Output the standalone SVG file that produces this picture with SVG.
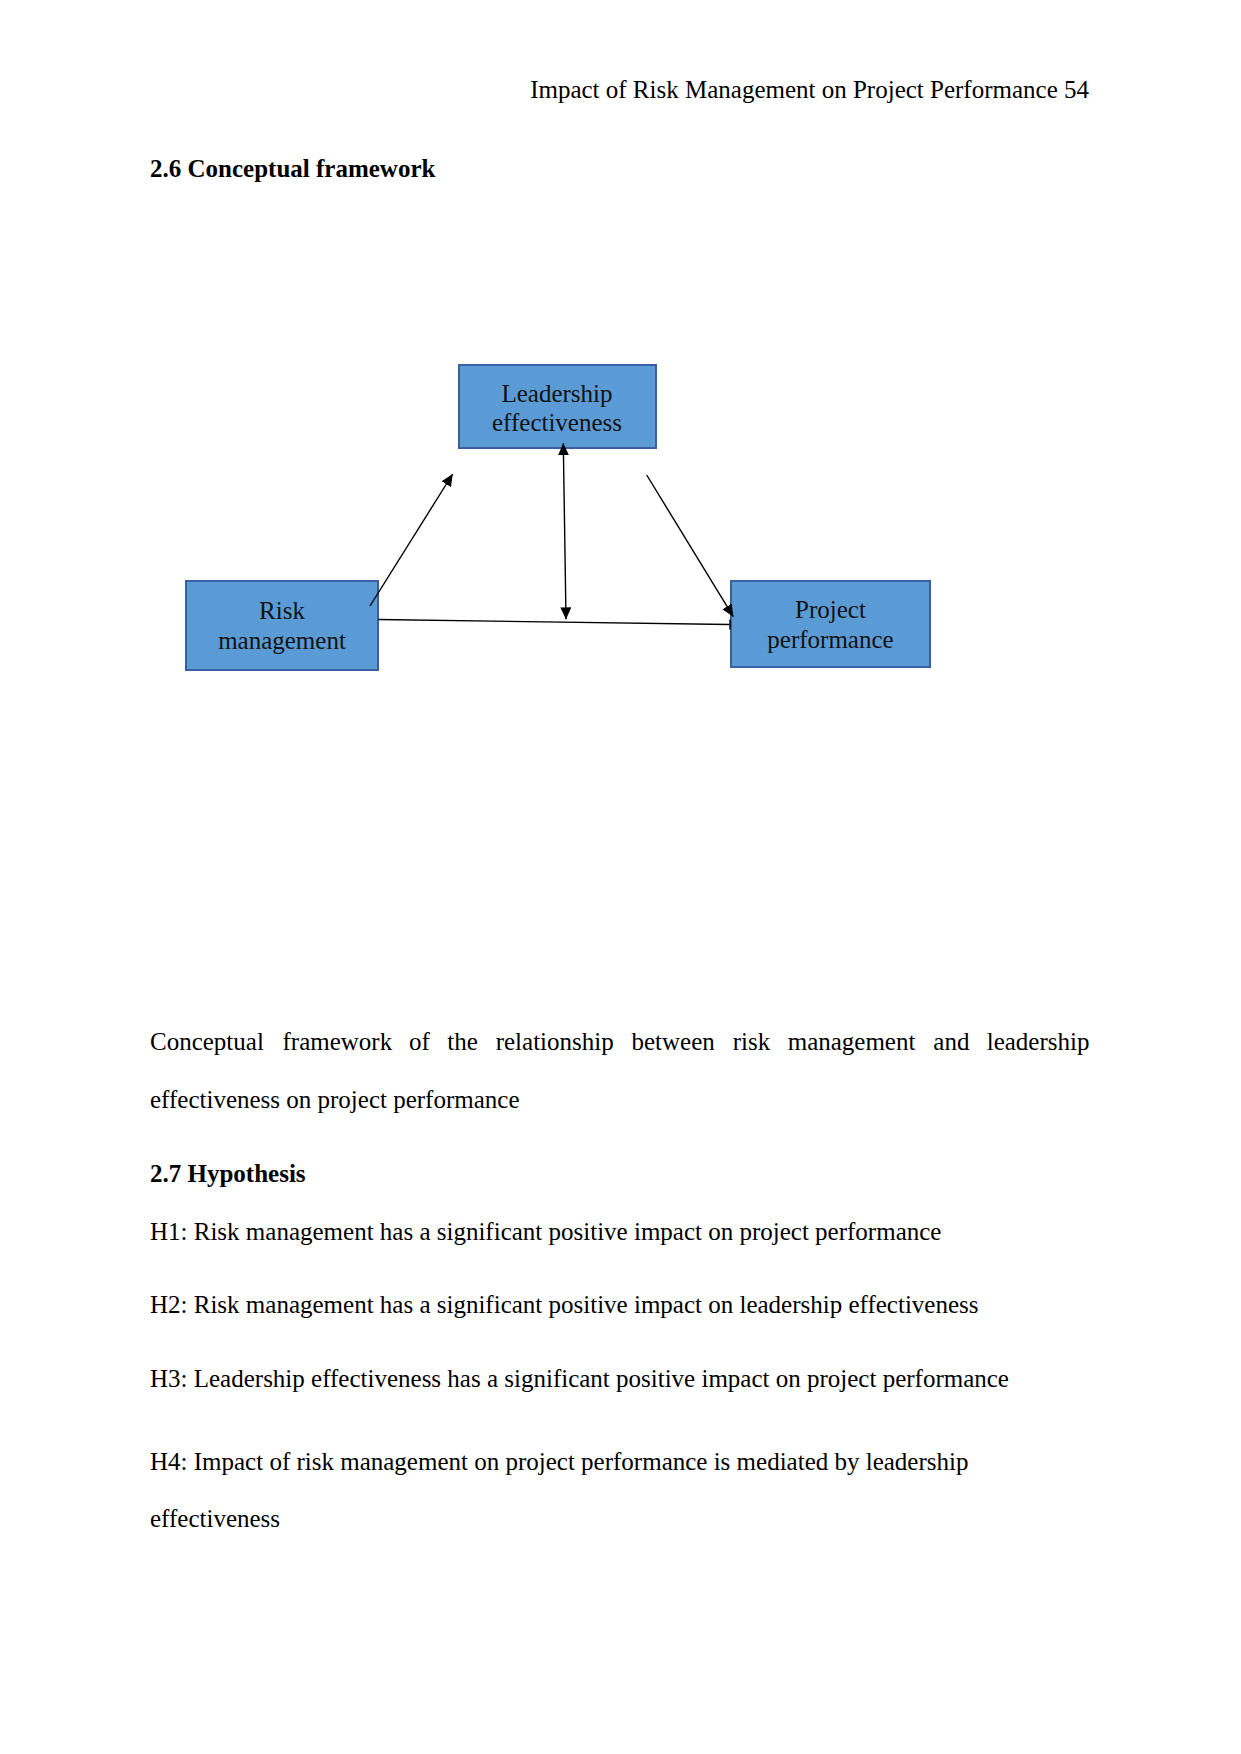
<svg xmlns="http://www.w3.org/2000/svg" width="1241" height="1754" viewBox="0 0 1241 1754">
<style>
.t{font-family:"Liberation Serif","Times New Roman",serif;font-size:25px;fill:#000}
.b{font-weight:bold}
.box{fill:#5B9BD5;stroke:#3A5FA0;stroke-width:2}
.lbl{font-family:"Liberation Serif","Times New Roman",serif;font-size:25px;fill:#111;text-anchor:middle}
.c{stroke:#000;stroke-width:1.4;fill:none}
</style>
<defs>
<marker id="ah" viewBox="0 0 12 11" refX="12" refY="5.5" markerWidth="12" markerHeight="11" markerUnits="userSpaceOnUse" orient="auto-start-reverse">
<path d="M0,0 L12,5.5 L0,11 z" fill="#000"/>
</marker>
</defs>
<rect width="1241" height="1754" fill="#fff"/>
<text class="t" x="1089" y="98" text-anchor="end">Impact of Risk Management on Project Performance 54</text>
<text class="t b" x="150" y="177">2.6 Conceptual framework</text>

<g id="node-leadership">
<rect class="box" x="459" y="365" width="197" height="83"/>
<text class="lbl" x="557" y="402">Leadership</text>
<text class="lbl" x="557" y="431">effectiveness</text>
</g>
<g id="node-risk">
<rect class="box" x="186" y="581" width="192" height="89"/>
<text class="lbl" x="282" y="619">Risk</text>
<text class="lbl" x="282" y="649">management</text>
</g>
<g id="node-project">
<rect class="box" x="731" y="581" width="199" height="86"/>
<text class="lbl" x="830.5" y="618">Project</text>
<text class="lbl" x="830.5" y="648">performance</text>
</g>

<g id="connectors">
<line class="c" x1="370" y1="606" x2="452.7" y2="474" marker-end="url(#ah)"/>
<line class="c" x1="563.3" y1="443.3" x2="566" y2="619.3" marker-start="url(#ah)" marker-end="url(#ah)"/>
<line class="c" x1="378.5" y1="619.5" x2="730" y2="624.5"/>
<line class="c" x1="730" y1="619.5" x2="730" y2="629.5"/>
<line class="c" x1="646.7" y1="475" x2="733.3" y2="616.7" marker-end="url(#ah)"/>
</g>

<text class="t" y="1050"><tspan x="150">Conceptual</tspan><tspan x="282.5">framework</tspan><tspan x="409">of</tspan><tspan x="447.3">the</tspan><tspan x="495.7">relationship</tspan><tspan x="631.5">between</tspan><tspan x="732.7">risk</tspan><tspan x="787.7">management</tspan><tspan x="933.3">and</tspan><tspan x="986.7">leadership</tspan></text>
<text class="t" x="150" y="1108">effectiveness on project performance</text>
<text class="t b" x="150" y="1182">2.7 Hypothesis</text>
<text class="t" x="150" y="1240">H1: Risk management has a significant positive impact on project performance</text>
<text class="t" x="150" y="1313">H2: Risk management has a significant positive impact on leadership effectiveness</text>
<text class="t" x="150" y="1387">H3: Leadership effectiveness has a significant positive impact on project performance</text>
<text class="t" x="150" y="1470">H4: Impact of risk management on project performance is mediated by leadership</text>
<text class="t" x="150" y="1527">effectiveness</text>
</svg>
